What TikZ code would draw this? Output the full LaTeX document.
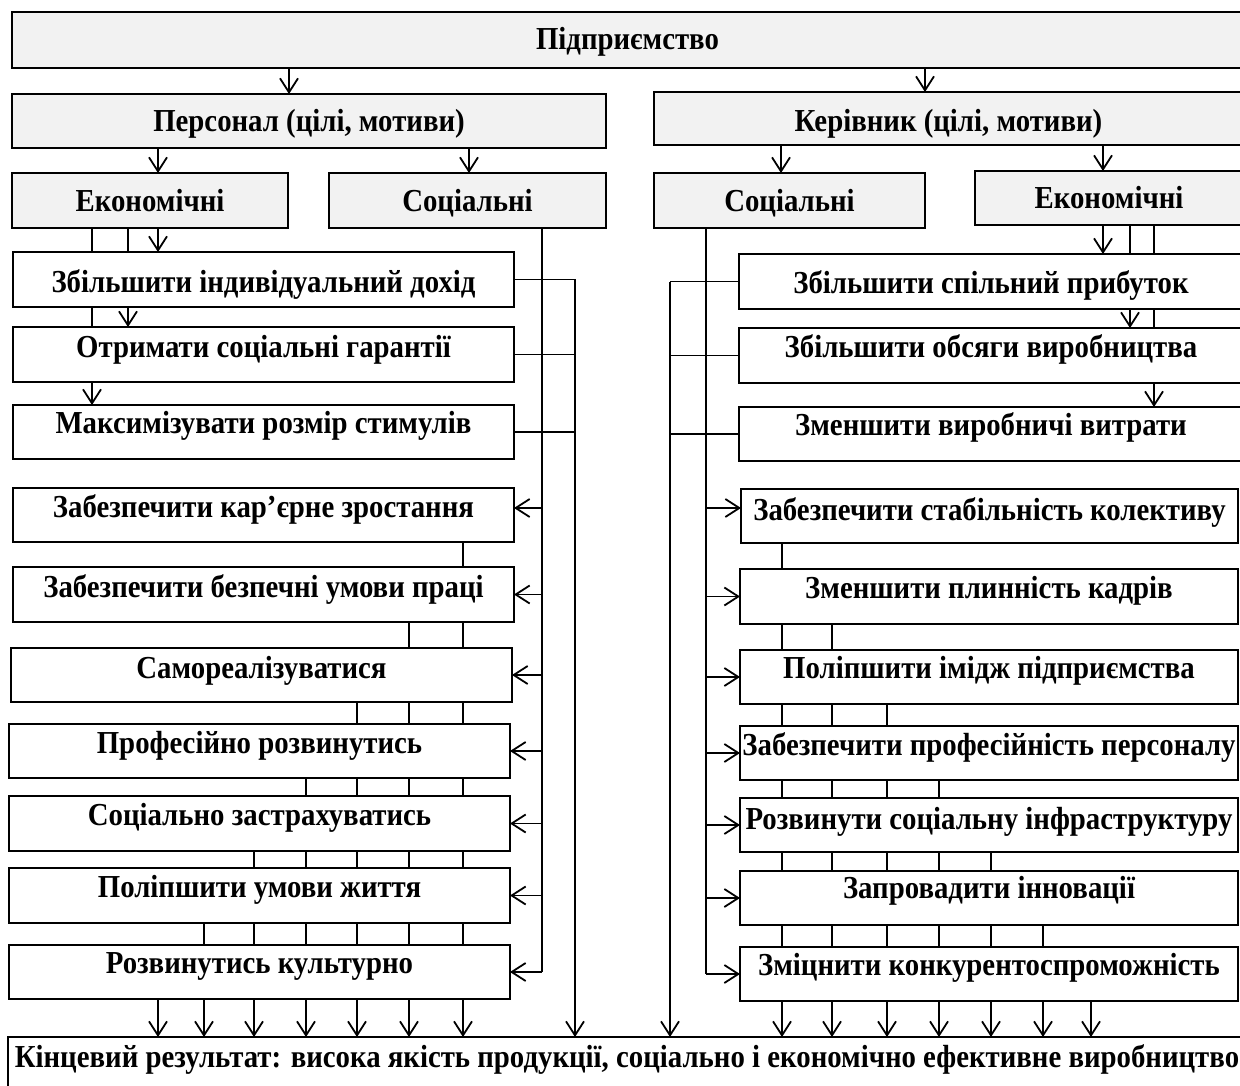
\documentclass[tikz,border=0pt]{standalone}
\usepackage{fontspec}
\setmainfont{Liberation Serif}[FakeStretch=0.9]
\usetikzlibrary{arrows.meta}
\definecolor{hdr}{HTML}{F2F2F2}
\pgfdeclarelayer{bg}
\pgfsetlayers{bg,main}
% goal box: [style]{name}{left}{top}{right}{bottom}{baseline offset}{text}
\newcommand\goalbox[8][wbox]{%
  \node[#1, minimum width={#5-#3}, minimum height={#6-#4}] (#2) at ({(#3+#5)/2},{(#4+#6)/2}) {};
  \node[lbl] (#2-t) at ({(#3+#5)/2},{#4+#7}) {#8};
}
\begin{document}
\begin{tikzpicture}[x=1pt,y=-1pt,
  wbox/.style={draw, line width=2.2pt, fill=white, inner sep=0pt, outer sep=0pt, rectangle},
  gbox/.style={wbox, fill=hdr},
  lbl/.style={anchor=base, inner sep=0pt, font=\fontsize{32}{35}\selectfont\bfseries},
  conn/.style={line width=1.8pt},
  arr/.style={conn, -{Straight Barb[length=14pt,width=18pt]}}]
\useasboundingbox (0,0) rectangle (1240,1086);

% headers
\goalbox[gbox]{top}{12}{12}{1243}{68}{38}{Підприємство}
\goalbox[gbox]{pers}{12}{94}{606}{148}{38}{Персонал (цілі, мотиви)}
\goalbox[gbox]{ker}{654}{92}{1243}{145}{40}{Керівник (цілі, мотиви)}
\goalbox[gbox]{econL}{12}{173}{288}{228}{39}{Економічні}
\goalbox[gbox]{socL}{329}{173}{606}{228}{39}{Соціальні}
\goalbox[gbox]{socR}{654}{173}{925}{228}{39}{Соціальні}
\goalbox[gbox]{econR}{975}{171}{1243}{225}{38}{Економічні}

% staff: economic goals
\goalbox{e1}{13}{252}{514}{307}{40}{Збільшити індивідуальний дохід}
\goalbox{e2}{13}{327}{514}{382}{30}{Отримати соціальні гарантії}
\goalbox{e3}{13}{405}{514}{459}{28}{Максимізувати розмір стимулів}

% staff: social goals
\goalbox{s1}{13}{488}{514}{542}{29}{Забезпечити кар’єрне зростання}
\goalbox{s2}{13}{567}{514}{622}{30}{Забезпечити безпечні умови праці}
\goalbox{s3}{11}{648}{512}{702}{30}{Самореалізуватися}
\goalbox{s4}{9}{724}{510}{778}{29}{Професійно розвинутись}
\goalbox{s5}{9}{796}{510}{851}{29}{Соціально застрахуватись}
\goalbox{s6}{9}{868}{510}{923}{29}{Поліпшити умови життя}
\goalbox{s7}{9}{945}{510}{999}{28}{Розвинутись культурно}

% manager: economic goals
\goalbox{r1}{739}{254}{1243}{309}{39}{Збільшити спільний прибуток}
\goalbox{r2}{739}{328}{1243}{383}{29}{Збільшити обсяги виробництва}
\goalbox{r3}{739}{407}{1243}{461}{28}{Зменшити виробничі витрати}

% manager: social goals
\goalbox{t1}{741}{489}{1238}{543}{31}{Забезпечити стабільність колективу}
\goalbox{t2}{740}{569}{1238}{624}{29}{Зменшити плинність кадрів}
\goalbox{t3}{740}{650}{1238}{704}{28}{Поліпшити імідж підприємства}
\goalbox{t4}{740}{726}{1238}{780}{29}{Забезпечити професійність персоналу}
\goalbox{t5}{740}{798}{1238}{852}{31}{Розвинути соціальну інфраструктуру}
\goalbox{t6}{740}{871}{1238}{925}{27}{Запровадити інновації}
\goalbox{t7}{740}{947}{1238}{1001}{28}{Зміцнити конкурентоспроможність}

% final result
\goalbox{final}{8}{1037}{1246}{1100}{30}{Кінцевий результат: висока якість продукції, соціально і економічно ефективне виробництво}

\begin{pgfonlayer}{bg}
  % top level
  \draw[arr] (289,0 |- top.south) -- (289,0 |- pers.north);
  \draw[arr] (925,0 |- top.south) -- (925,0 |- ker.north);
  \draw[arr] (158,0 |- pers.south) -- (158,0 |- econL.north);
  \draw[arr] (469,0 |- pers.south) -- (469,0 |- socL.north);
  \draw[arr] (781,0 |- ker.south) -- (781,0 |- socR.north);
  \draw[arr] (1103,0 |- ker.south) -- (1103,0 |- econR.north);

  % staff economic branch
  \draw[arr] (158,0 |- econL.south) -- (158,0 |- e1.north);
  \draw[arr] (128,0 |- econL.south) -- (128,0 |- e2.north);
  \draw[arr] (92,0 |- econL.south) -- (92,0 |- e3.north);
  \foreach \n in {e1,e2,e3}
    \draw[conn] (\n.east) -- (575,0 |- \n.east);
  \draw[arr] (575,0 |- e1.east) -- (575,0 |- final.north);

  % manager economic branch
  \draw[arr] (1103,0 |- econR.south) -- (1103,0 |- r1.north);
  \draw[arr] (1130,0 |- econR.south) -- (1130,0 |- r2.north);
  \draw[arr] (1154,0 |- econR.south) -- (1154,0 |- r3.north);
  \foreach \n in {r1,r2,r3}
    \draw[conn] (\n.west) -- (670,0 |- \n.west);
  \draw[arr] (670,0 |- r1.west) -- (670,0 |- final.north);

  % staff social branch
  \draw[conn] (542,0 |- socL.south) -- (542,0 |- s7.east);
  \draw[arr] (542,508) -- (s1.east |- 542,508);
  \foreach \n in {s2,s3,s4,s5,s6,s7}
    \draw[arr] (542,0 |- \n.east) -- (\n.east);
  \foreach \n/\x in {s1/463,s2/409,s3/357,s4/306,s5/254,s6/204,s7/158}
    \draw[arr] (\x,0 |- \n.south) -- (\x,0 |- final.north);

  % manager social branch
  \draw[conn] (706,0 |- socR.south) -- (706,0 |- t7.west);
  \draw[arr] (706,508) -- (t1.west |- 706,508);
  \foreach \n in {t2,t3,t4,t5,t6,t7}
    \draw[arr] (706,0 |- \n.west) -- (\n.west);
  \foreach \n/\x in {t1/782,t2/832,t3/887,t4/939,t5/991,t6/1043,t7/1091}
    \draw[arr] (\x,0 |- \n.south) -- (\x,0 |- final.north);
\end{pgfonlayer}
\end{tikzpicture}
\end{document}
